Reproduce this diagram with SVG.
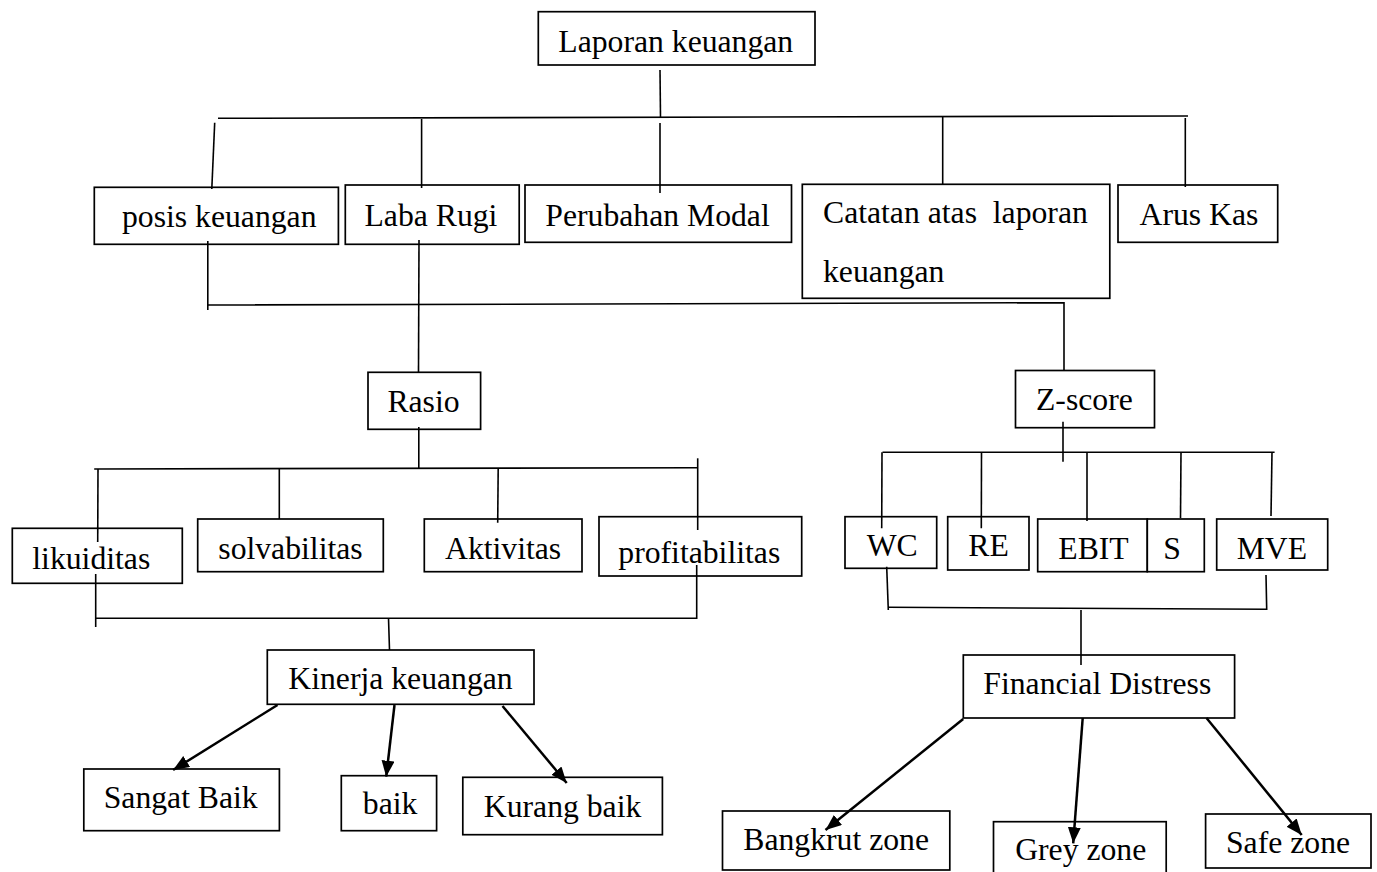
<svg xmlns="http://www.w3.org/2000/svg" width="1377" height="872" viewBox="0 0 1377 872">
<style>
.box{fill:#fff;stroke:#000;stroke-width:1.7}
.t{font-family:"Liberation Serif","Times New Roman",serif;font-size:31.7px;fill:#000;white-space:pre}
.c{stroke:#000;stroke-width:1.6;fill:none}
.a{stroke:#000;stroke-width:2.5;fill:none;marker-end:url(#ah)}
</style>
<defs>
<marker id="ah" markerUnits="userSpaceOnUse" markerWidth="18" markerHeight="14" refX="16" refY="6.5" orient="auto">
<path d="M0,0 L16,6.5 L0,13 z" fill="#000"/>
</marker>
</defs>
<rect width="1377" height="872" fill="#fff"/>

<g id="laporan"><rect class="box" x="538.3" y="11.7" width="276.7" height="53.3"/><text class="t" x="558.3" y="51.7">Laporan keuangan</text></g>
<g id="posis"><rect class="box" x="94.3" y="187.3" width="244.1" height="57"/><text class="t" x="122" y="227">posis keuangan</text></g>
<g id="labarugi"><rect class="box" x="345.3" y="185" width="173.9" height="59.3"/><text class="t" x="364.5" y="226">Laba Rugi</text></g>
<g id="perubahan"><rect class="box" x="525" y="185" width="266.5" height="57.3"/><text class="t" x="545.3" y="226">Perubahan Modal</text></g>
<g id="catatan"><rect class="box" x="802.3" y="184.3" width="307.5" height="114"/><text class="t" x="823" y="223">Catatan atas  laporan</text><text class="t" x="823" y="281.7">keuangan</text></g>
<g id="aruskas"><rect class="box" x="1118" y="185" width="159.7" height="57.3"/><text class="t" x="1139.5" y="225">Arus Kas</text></g>

<g id="rasio"><rect class="box" x="368" y="372.3" width="112.6" height="57"/><text class="t" x="387.4" y="411.7">Rasio</text></g>
<g id="zscore"><rect class="box" x="1015.5" y="370.5" width="139" height="57.2"/><text class="t" x="1036" y="410">Z-score</text></g>

<g id="likuiditas"><rect class="box" x="12.3" y="528.3" width="170" height="55"/><text class="t" x="32.3" y="569">likuiditas</text></g>
<g id="solvabilitas"><rect class="box" x="197.7" y="519" width="185.6" height="52.7"/><text class="t" x="218.3" y="559">solvabilitas</text></g>
<g id="aktivitas"><rect class="box" x="424.3" y="519" width="157.7" height="52.7"/><text class="t" x="445" y="559">Aktivitas</text></g>
<g id="profitabilitas"><rect class="box" x="599" y="516.7" width="202.7" height="59.3"/><text class="t" x="618.3" y="563.3">profitabilitas</text></g>

<g id="wc"><rect class="box" x="845" y="516.7" width="91.7" height="51.6"/><text class="t" x="866.7" y="556">WC</text></g>
<g id="re"><rect class="box" x="947.7" y="516.7" width="81.3" height="53.3"/><text class="t" x="968.3" y="556">RE</text></g>
<g id="ebit"><rect class="box" x="1037.7" y="519" width="109.6" height="52.7"/><text class="t" x="1058.3" y="559.3">EBIT</text></g>
<g id="s"><rect class="box" x="1147.3" y="519" width="57" height="52.7"/><text class="t" x="1163.3" y="559.3">S</text></g>
<g id="mve"><rect class="box" x="1216.7" y="519" width="111" height="51"/><text class="t" x="1236.7" y="559.3">MVE</text></g>

<g id="kinerja"><rect class="box" x="267.3" y="650" width="266.7" height="54.3"/><text class="t" x="288.3" y="689.3">Kinerja keuangan</text></g>
<g id="financialdistress"><rect class="box" x="963.3" y="655" width="271.3" height="63"/><text class="t" x="983.3" y="694.3">Financial Distress</text></g>

<g id="sangatbaik"><rect class="box" x="83.8" y="769" width="195.6" height="61.7"/><text class="t" x="103.7" y="807.7">Sangat Baik</text></g>
<g id="baik"><rect class="box" x="341.3" y="775.7" width="95.3" height="55"/><text class="t" x="362.8" y="814.3">baik</text></g>
<g id="kurangbaik"><rect class="box" x="462.8" y="777.3" width="199.6" height="57.4"/><text class="t" x="483.8" y="816.7">Kurang baik</text></g>

<g id="bangkrut"><rect class="box" x="722.5" y="811" width="227.3" height="59"/><text class="t" x="743.3" y="850">Bangkrut zone</text></g>
<g id="grey"><rect class="box" x="993.5" y="821.7" width="172.7" height="56"/><text class="t" x="1015.2" y="860">Grey zone</text></g>
<g id="safe"><rect class="box" x="1205.6" y="814" width="165.4" height="54"/><text class="t" x="1226" y="853.3">Safe zone</text></g>

<g id="connectors">
<path class="c" d="M660,70 L660.5,118"/>
<path class="c" d="M218,118.3 L1188,116"/>
<path class="c" d="M214.7,122.7 L211.8,189"/>
<path class="c" d="M421.6,119 L421.6,188"/>
<path class="c" d="M660,123 L660,193"/>
<path class="c" d="M942.7,117 L942.7,184"/>
<path class="c" d="M1185.3,118 L1185.3,187"/>
<path class="c" d="M207.8,241 L207.8,310"/>
<path class="c" d="M419,240 L418.5,372"/>
<path class="c" d="M208,305 L1064,302.7 L1064,370"/>
<path class="c" d="M418.8,427 L418.8,468.5"/>
<path class="c" d="M94.2,469 L697.7,467.7"/>
<path class="c" d="M98,469 L97.7,542"/>
<path class="c" d="M279.3,469 L279.3,519"/>
<path class="c" d="M498.2,468 L497.7,522.7"/>
<path class="c" d="M697.7,458.3 L697.7,530"/>
<path class="c" d="M95.7,574 L95.7,627"/>
<path class="c" d="M96,618.3 L696.7,618.3 L696.7,565"/>
<path class="c" d="M388.5,618.3 L389.5,650"/>
<path class="c" d="M1063,421.7 L1063,461.7"/>
<path class="c" d="M882.5,452.3 L1274.6,452.3"/>
<path class="c" d="M882,452.3 L881.7,528.3"/>
<path class="c" d="M981.5,452.3 L981.3,528.3"/>
<path class="c" d="M1087,452.3 L1087,521"/>
<path class="c" d="M1181,452.3 L1180.5,518"/>
<path class="c" d="M1272,452.3 L1271,516"/>
<path class="c" d="M886.7,566.7 L888.3,610"/>
<path class="c" d="M888,607.3 L1266.7,609.3 L1266,575"/>
<path class="c" d="M1081,610 L1081,665"/>
<path class="a" d="M277.5,705 L173.1,770"/>
<path class="a" d="M394.5,705 L386.2,776.7"/>
<path class="a" d="M502.5,706 L566.7,783"/>
<path class="a" d="M963.2,719 L825.5,830"/>
<path class="a" d="M1082.7,718 L1073.2,843.3"/>
<path class="a" d="M1206.5,718 L1301.7,835"/>
</g>
</svg>
